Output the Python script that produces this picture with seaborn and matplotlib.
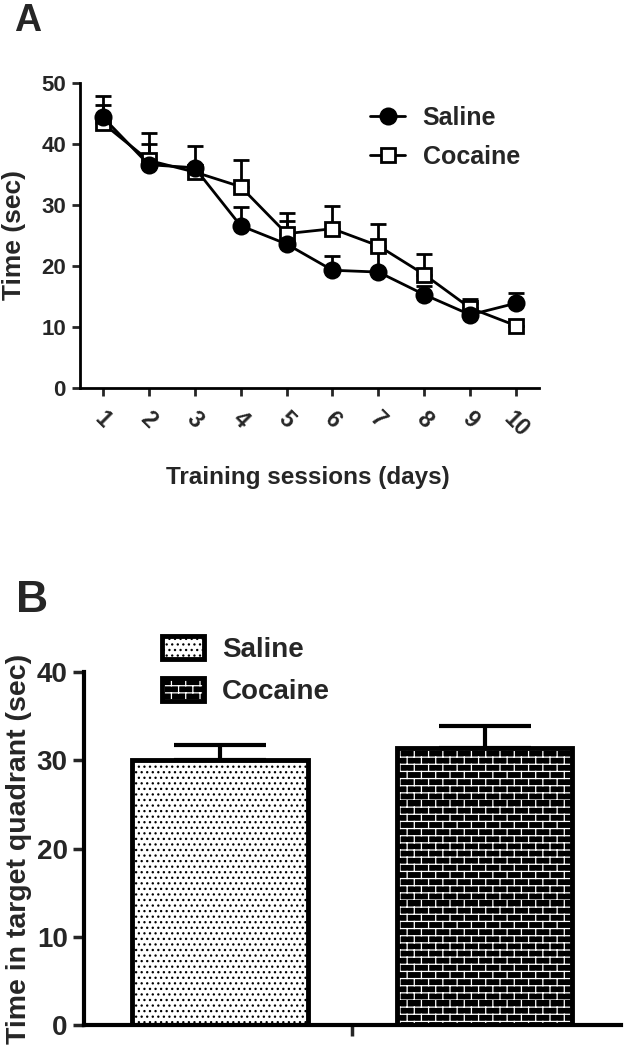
import warnings
import numpy as np
import pandas as pd
import matplotlib
matplotlib.use('Agg')
import matplotlib.pyplot as plt
import matplotlib.hatch as mhatch
from matplotlib.path import Path
from matplotlib.patches import Rectangle
from matplotlib.legend_handler import HandlerTuple
import seaborn as sns

warnings.filterwarnings('ignore')

# Panel A: escape latency over training days
dias = [1, 2, 3, 4, 5, 6, 7, 8, 9, 10]
saline_media = [44.4, 36.6, 36.1, 26.6, 23.6, 19.3, 19.0, 15.3, 12.0, 13.9]
saline_sem = [3.5, 5.2, 3.6, 3.0, 3.8, 2.3, 4.0, 1.4, 2.6, 1.6]
cocaine_media = [43.4, 37.3, 35.4, 33.0, 25.3, 26.1, 23.3, 18.6, 13.1, 10.2]
cocaine_sem = [3.0, 2.7, 0.6, 4.3, 3.4, 3.8, 3.6, 3.4, 0.9, 0.0]

# Panel B: probe trial
grupos = ['Saline', 'Cocaine']
quadrante_media = [30.0, 31.4]
quadrante_sem = [1.8, 2.5]


# brick hatch ('b'), rows offset by half a brick like the GraphPad pattern
class BrickHatch(mhatch.HatchPatternBase):
    filas = 14
    ladrillos = 7

    def __init__(self, hatch, density):
        self.activo = 'b' in hatch
        n_h = self.filas
        n_v = self.filas * (self.ladrillos + 1)
        self.num_vertices = (n_h + n_v) * 2 if self.activo else 0

    def set_vertices_and_codes(self, vertices, codes):
        segs = []
        for i in range(self.filas):
            y0 = i / self.filas
            y1 = (i + 1) / self.filas
            segs.append(((0.0, y0), (1.0, y0)))
            off = 0.5 * (i % 2)
            for j in range(self.ladrillos + 1):
                x = (j + off) / self.ladrillos
                segs.append(((x, y0), (x, y1)))
        pts = np.array(segs, dtype=float).reshape(-1, 2)
        vertices[:] = pts
        codes[0::2] = Path.MOVETO
        codes[1::2] = Path.LINETO


mhatch._hatch_types.append(BrickHatch)

sns.set_style('white')
plt.rcParams['font.family'] = ['Liberation Sans', 'DejaVu Sans']
plt.rcParams['font.weight'] = 'bold'
plt.rcParams['axes.labelweight'] = 'bold'
plt.rcParams['hatch.linewidth'] = 0.9

fig = plt.figure(figsize=(6.24, 10.5), dpi=100)
axA = fig.add_axes([0.128, 0.6305, 0.736, 0.2905])
axB = fig.add_axes([0.134, 0.0238, 0.861, 0.336])

# ---------- A ----------
df_a = pd.DataFrame({
    'dia': dias * 2,
    'tiempo': saline_media + cocaine_media,
    'sem': saline_sem + cocaine_sem,
    'grupo': ['Saline'] * 10 + ['Cocaine'] * 10,
})

for grupo, marker, face in [('Cocaine', 's', 'white'), ('Saline', 'o', 'black')]:
    d = df_a[df_a['grupo'] == grupo]
    axA.errorbar(d['dia'], d['tiempo'], yerr=[np.zeros(len(d)), d['sem']], fmt='none',
                 ecolor='black', elinewidth=2, capsize=5.5, capthick=2, zorder=2)
    sns.lineplot(x='dia', y='tiempo', data=d, ax=axA, color='black', linewidth=2,
                 marker=marker, markersize=11 if marker == 'o' else 9.5,
                 markerfacecolor=face, markeredgecolor='black', markeredgewidth=2,
                 label=grupo, zorder=3)

axA.set_xlim(0.5, 10.5)
axA.set_ylim(0, 50)
axA.set_yticks([0, 10, 20, 30, 40, 50])
axA.set_xticks(dias)
axA.set_xticklabels([str(d) for d in dias], rotation=-45, ha='center', fontsize=16.5)
axA.tick_params(axis='y', labelsize=16)
axA.tick_params(axis='both', direction='out', length=6, width=2, left=True, bottom=True, pad=4)
axA.tick_params(axis='x', pad=8)
for s in ['top', 'right']:
    axA.spines[s].set_visible(False)
for s in ['left', 'bottom']:
    axA.spines[s].set_linewidth(2)
    axA.spines[s].set_color('black')
axA.set_xlabel('Training sessions (days)', fontsize=17.5)
axA.set_ylabel('Time (sec)', fontsize=19)
axA.xaxis.set_label_coords(0.497, -0.255)
axA.yaxis.set_label_coords(-0.118, 0.5)

handles, labels = axA.get_legend_handles_labels()
orden = [labels.index('Saline'), labels.index('Cocaine')]
axA.legend([handles[i] for i in orden], [labels[i] for i in orden],
           loc='upper left', bbox_to_anchor=(0.593, 0.899), bbox_transform=fig.transFigure,
           frameon=False, fontsize=18, handlelength=1.4, handletextpad=0.7,
           labelspacing=0.6, borderpad=0, borderaxespad=0)

fig.text(14 / 624, 1 - 31 / 1050, 'A', fontsize=27, fontweight='bold')

# ---------- B ----------
df_b = pd.DataFrame({'dia': [''] * 2, 'tiempo': quadrante_media, 'grupo': grupos})
sns.barplot(x='dia', y='tiempo', hue='grupo', data=df_b, ax=axB, width=0.9, gap=0.335,
            errorbar=None, legend=False, palette=['white', 'black'])

# hatch colour follows the edge colour, so the hatched fill and the black outline are separate patches
estilos = {'Saline': ('white', '...', 'black'), 'Cocaine': ('black', 'b', 'white')}
barras = list(axB.patches)[:2]
handles_b = []
for p, g, err in zip(barras, grupos, quadrante_sem):
    face, hatch, hcol = estilos[g]
    p.set_facecolor(face)
    p.set_hatch(hatch)
    p.set_edgecolor(hcol)
    p.set_linewidth(0)
    borde = Rectangle((p.get_x(), p.get_y()), p.get_width(), p.get_height(),
                      fill=False, edgecolor='black', linewidth=3.5, zorder=p.get_zorder() + 0.1)
    axB.add_patch(borde)
    handles_b.append((p, borde))
    cx = p.get_x() + p.get_width() / 2
    axB.errorbar([cx], [p.get_height()], yerr=[[0], [err]], fmt='none', ecolor='black',
                 elinewidth=3, capsize=33, capthick=3, zorder=1)

axB.set_xlim(-0.457, 0.457)
axB.set_ylim(0, 40)
axB.set_yticks([0, 10, 20, 30, 40])
axB.set_xlabel('')
axB.set_ylabel('Time in target quadrant (sec)', fontsize=20.5)
axB.yaxis.set_label_coords(-0.096, 0.5)
axB.tick_params(axis='both', direction='out', length=8, width=2.5, left=True, bottom=True, labelsize=20)
for s in ['top', 'right']:
    axB.spines[s].set_visible(False)
for s in ['left', 'bottom']:
    axB.spines[s].set_linewidth(3)
    axB.spines[s].set_color('black')

axB.legend(handles=handles_b, labels=grupos, handler_map={tuple: HandlerTuple(ndivide=1, pad=0)},
           loc='upper left', bbox_to_anchor=(0.26, 0.394),
           bbox_transform=fig.transFigure, frameon=False, fontsize=20,
           handlelength=1.5, handleheight=0.86, handletextpad=0.65,
           labelspacing=0.55, borderpad=0, borderaxespad=0)

fig.text(16 / 624, 1 - 612 / 1050, 'B', fontsize=32, fontweight='bold')

fig.savefig('out.png', dpi=100)
